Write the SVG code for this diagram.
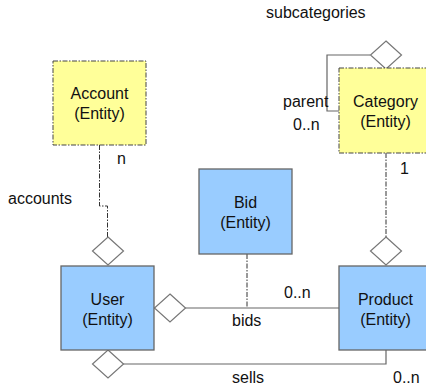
<svg xmlns="http://www.w3.org/2000/svg" width="426" height="386" viewBox="0 0 426 386">
<style>
text{font-family:"Liberation Sans",Arial,sans-serif;font-size:16px;fill:#111}
.c{text-anchor:middle}
.ent{fill:#99CCFF;stroke:#666;stroke-width:1.3}
.abs{fill:#FFFF99;stroke:#444;stroke-width:1;stroke-dasharray:5 1.5 1.5 1.5}
.dia{fill:#fff;stroke:#777;stroke-width:1.2}
.solid{fill:none;stroke:#666;stroke-width:1.2}
.dash{fill:none;stroke:#333;stroke-width:1;stroke-dasharray:5 1.5 1.5 1.5}
</style>
<rect width="426" height="386" fill="#fff"/>
<g id="connectors">
<path class="dash" d="M99.5,145 V206 H107.5 V237"/>
<path class="dash" d="M386,153 V237"/>
<path class="dash" d="M247,254 V308"/>
<path class="solid" d="M370,55 H327 V111 H339"/>
<path class="solid" d="M185,308 H339"/>
<path class="solid" d="M123,364 H386 V350"/>
<polygon class="dia" points="108,237 123.5,251 108,265 92.5,251"/>
<polygon class="dia" points="386,237 401.5,251 386,265 370.5,251"/>
<polygon class="dia" points="386,41 401.5,55 386,69 370.5,55"/>
<polygon class="dia" points="170,294 185.5,308 170,322 154.5,308"/>
<polygon class="dia" points="108,350 123.5,364 108,378 92.5,364"/>
<text x="117" y="164">n</text>
<text x="8" y="204">accounts</text>
<text x="266" y="18">subcategories</text>
<text x="283" y="107">parent</text>
<text x="293" y="130">0..n</text>
<text x="400" y="174">1</text>
<text x="284" y="298">0..n</text>
<text x="232" y="326">bids</text>
<text x="232" y="383">sells</text>
<text x="393" y="383">0..n</text>
</g>
<g id="account">
<rect class="abs" x="53" y="61" width="93" height="84"/>
<text class="c" x="99.5" y="99">Account</text>
<text class="c" x="99.5" y="119">(Entity)</text>
</g>
<g id="category">
<rect class="abs" x="339" y="68" width="93" height="85"/>
<text class="c" x="385.5" y="107">Category</text>
<text class="c" x="385.5" y="127">(Entity)</text>
</g>
<g id="bid">
<rect class="ent" x="199" y="169" width="93" height="85"/>
<text class="c" x="245.5" y="208">Bid</text>
<text class="c" x="245.5" y="228">(Entity)</text>
</g>
<g id="user">
<rect class="ent" x="61" y="266" width="93" height="84"/>
<text class="c" x="107.5" y="305">User</text>
<text class="c" x="107.5" y="325">(Entity)</text>
</g>
<g id="product">
<rect class="ent" x="339" y="266" width="93" height="84"/>
<text class="c" x="385.5" y="305">Product</text>
<text class="c" x="385.5" y="325">(Entity)</text>
</g>
</svg>
